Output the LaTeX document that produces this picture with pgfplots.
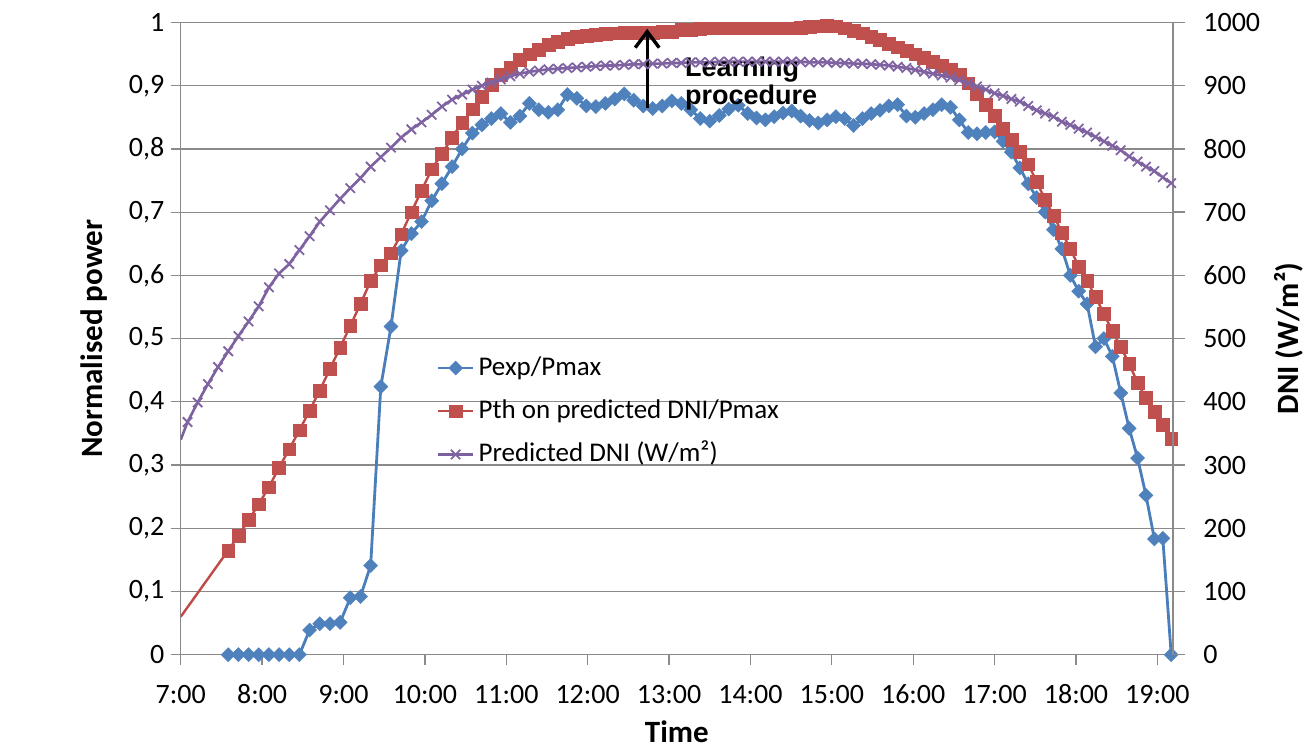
\documentclass[border=0pt]{standalone}
\usepackage{fontspec}
\setmainfont{Carlito}
\newfontfamily\arialfont{Liberation Sans}
\usepackage{pgfplots}
\pgfplotsset{compat=1.18}
\usepackage{pgfplotstable}
\usetikzlibrary{arrows.meta}

\definecolor{bluel}{HTML}{4A7EBB}
\definecolor{bluem}{HTML}{4F81BD}
\definecolor{redl}{HTML}{BE4B48}
\definecolor{redm}{HTML}{C0504D}
\definecolor{purl}{HTML}{7D60A0}
\definecolor{purm}{HTML}{8064A2}
\definecolor{gridc}{HTML}{8A8A8A}

% t = minutes after 7:00
\pgfplotstableread{
t pexp pth
35 0 0.165
42.5 0 0.188
50 0 0.213
57.5 0 0.238
65 0 0.265
72.5 0 0.296
80 0 0.325
87.5 0 0.355
95 0.039 0.386
102.5 0.049 0.418
110 0.049 0.452
117.5 0.051 0.486
125 0.090 0.520
132.5 0.092 0.555
140 0.141 0.591
147.5 0.424 0.616
155 0.519 0.635
162.5 0.639 0.665
170 0.666 0.700
177.5 0.685 0.734
185 0.718 0.768
192.5 0.745 0.792
200 0.772 0.818
207.5 0.800 0.842
215 0.825 0.863
222 0.838 0.882
229 0.848 0.902
236 0.856 0.917
243 0.842 0.929
250 0.852 0.941
257 0.872 0.950
264 0.862 0.957
271 0.858 0.965
278 0.862 0.970
285 0.886 0.974
292 0.880 0.977
299 0.868 0.979
306 0.867 0.981
313 0.872 0.982
320 0.879 0.983
327 0.887 0.984
334 0.877 0.984
341 0.868 0.984
348 0.864 0.984
355 0.868 0.985
362 0.876 0.986
369 0.872 0.988
376 0.862 0.989
383 0.848 0.990
390 0.844 0.991
397 0.853 0.991
404 0.863 0.991
411 0.869 0.991
418 0.856 0.991
424.5 0.849 0.991
431 0.846 0.991
437.5 0.851 0.991
444 0.857 0.991
450.5 0.860 0.991
457 0.852 0.992
463.5 0.845 0.993
470 0.841 0.994
476.5 0.846 0.995
483 0.851 0.994
489.5 0.848 0.991
496 0.837 0.987
502.5 0.848 0.983
509 0.856 0.978
515.5 0.861 0.973
522 0.868 0.967
528.5 0.870 0.961
535 0.852 0.955
541.5 0.850 0.950
548 0.856 0.944
554.5 0.862 0.938
561 0.870 0.932
567.5 0.866 0.926
574 0.846 0.918
580.5 0.826 0.904
587 0.824 0.888
593.5 0.826 0.870
600 0.827 0.852
606.2 0.812 0.832
612.4 0.795 0.814
618.6 0.770 0.795
624.8 0.745 0.776
631 0.723 0.748
637.2 0.700 0.720
643.4 0.672 0.695
649.6 0.642 0.668
655.8 0.600 0.642
662 0.575 0.614
668.2 0.555 0.591
674.4 0.487 0.566
680.6 0.500 0.539
686.8 0.472 0.512
693 0.414 0.487
699.2 0.358 0.460
705.4 0.311 0.430
711.6 0.252 0.406
717.8 0.183 0.384
724 0.184 0.364
730.2 0 0.341
}\datamain

\pgfplotstableread{
t dni
5 368
12.5 399
20 428
27.5 455
35 480
42.5 504
50 527
57.5 551
65 581
72.5 603
80 618
87.5 640
95 662
102.5 685
110 703
117.5 721
125 738
132.5 754
140 772
147.5 787
155 802
162.5 818
170 831
177.5 842
185 854
192.5 867
200 878
207.5 886
215 894
222 900
229 905
236 910
243 915
250 919
257 922
264 924
271 926
278 927
285 928
292 929
299 930
306 931
313 932
320 932
327 933
334 934
341 934
348 935
355 935
362 936
369 936
376 937
383 937
390 937
397 938
404 938
411 938
418 938
424.5 938
431 938
437.5 938
444 938
450.5 938
457 938
463.5 937
470 937
476.5 937
483 936
489.5 936
496 935
502.5 935
509 934
515.5 933
522 932
528.5 930
535 928
541.5 925
548 922
554.5 919
561 916
567.5 913
574 909
580.5 904
587 899
593.5 894
600 888
606.2 884
612.4 879
618.6 875
624.8 868
631 861
637.2 856
643.4 851
649.6 843
655.8 838
662 832
668.2 826
674.4 819
680.6 812
686.8 805
693 798
699.2 788
705.4 780
711.6 772
717.8 765
724 755
730.2 746
}\datadni

\pgfplotsset{
  bluestyle/.style={draw=bluel, line width=1.4pt, mark=square*, mark size=2.5pt,
    mark options={solid, rotate=45, fill=bluem, draw=bluem, line width=0.2pt}},
  redstyle/.style={draw=redl, line width=1.2pt, mark=square*, mark size=3.2pt,
    mark options={solid, fill=redm, draw=redm, line width=0.2pt}},
  purstyle/.style={draw=purl, line width=1.3pt, mark=x, mark size=3.3pt,
    mark options={solid, draw=purm, line width=0.9pt}},
}

\begin{document}
\begin{tikzpicture}
\begin{axis}[
  scale only axis, width=496pt, height=316pt,
  xmin=0, xmax=731.5, ymin=0, ymax=1,
  axis x line*=bottom, axis y line*=left,
  axis line style={draw=gridc, line width=0.65pt, -},
  tick align=outside, major tick length=5pt,
  tick style={draw=gridc, line width=0.65pt},
  xtick={0,60,120,180,240,300,360,420,480,540,600,660,720},
  xticklabels={7:00,8:00,9:00,10:00,11:00,12:00,13:00,14:00,15:00,16:00,17:00,18:00,19:00},
  ytick={0,0.1,0.2,0.3,0.4,0.5,0.6,0.7,0.8,0.9,1},
  yticklabels={0,{0,1},{0,2},{0,3},{0,4},{0,5},{0,6},{0,7},{0,8},{0,9},1},
  ymajorgrids, grid style={draw=gridc, line width=0.65pt},
  tick label style={font=\fontsize{14}{16}\selectfont, inner sep=0pt},
  xticklabel style={anchor=base, yshift=-19.5pt},
  yticklabel style={anchor=east, xshift=-3pt},
  xlabel={Time}, ylabel={Normalised power},
  label style={font=\bfseries\fontsize{15.5}{18}\selectfont},
  xlabel style={at={(axis description cs:0.5,-0.122)}, anchor=center, inner sep=0pt},
  ylabel style={at={(axis description cs:-0.0869,0.5)}, anchor=center},
  legend style={at={(axis description cs:0.258,0.474)}, anchor=north west,
    draw=none, fill=none, inner sep=0pt, outer sep=0pt, row sep=8.6pt, column sep=2pt,
    font=\fontsize{13.5}{16}\selectfont,
    nodes={inner sep=0pt, text height=10pt, text depth=3pt}},
  legend cell align=left,
  legend image code/.code={\draw[mark repeat=2,mark phase=2,#1] plot coordinates {(0pt,0pt) (8.75pt,0pt) (17.5pt,0pt)};},
]
\coordinate (SW) at (rel axis cs:0,0);
\coordinate (NE) at (rel axis cs:1,1);
\addplot[bluestyle] table[x=t, y=pexp] {\datamain};
\addlegendentry{Pexp/Pmax}
\addplot[draw=redl, line width=1.2pt, forget plot] coordinates {(0,0.06) (35,0.165)};
\addplot[redstyle] table[x=t, y=pth] {\datamain};
\addlegendentry{Pth on predicted DNI/Pmax}
\addlegendimage{purstyle}
\addlegendentry{Predicted DNI (W/m²)}
\end{axis}
\begin{axis}[
  scale only axis, width=496pt, height=316pt,
  xmin=0, xmax=731.5, ymin=0, ymax=1000,
  axis x line=none, axis y line*=right, xtick=\empty,
  axis line style={draw=gridc, line width=0.65pt, -},
  tick align=outside, major tick length=6pt,
  tick style={draw=gridc, line width=0.65pt},
  ytick={0,100,200,300,400,500,600,700,800,900,1000},
  yticklabels={0,100,200,300,400,500,600,700,800,900,1000},
  tick label style={font=\fontsize{14}{16}\selectfont, inner sep=0pt},
  yticklabel style={anchor=west, xshift=9pt},
  ylabel={DNI (W/m²)},
  label style={font=\bfseries\fontsize{15.5}{18}\selectfont},
  ylabel style={at={(axis description cs:1.1163,0.5)}, anchor=center, rotate=0},
]
\addplot[draw=purl, line width=1.3pt, forget plot] coordinates {(0,340) (5,368)};
\addplot[purstyle] table[x=t, y=dni] {\datadni};
\draw[line width=1.7pt, -{Straight Barb[length=8pt, width=12pt]}] (axis cs:343.9,865.5) -- (axis cs:343.9,990);
\node[anchor=base west, inner sep=0pt, font=\arialfont\bfseries\fontsize{13.5}{16}\selectfont] at (axis cs:371.6,915) {Learning};
\node[anchor=base west, inner sep=0pt, font=\arialfont\bfseries\fontsize{13.5}{16}\selectfont] at (axis cs:371.6,870) {procedure};
\end{axis}
\pgfresetboundingbox
\path[use as bounding box] ([xshift=-90.35pt,yshift=-48pt]SW) rectangle ([xshift=66pt,yshift=11.25pt]NE);
\end{tikzpicture}
\end{document}
